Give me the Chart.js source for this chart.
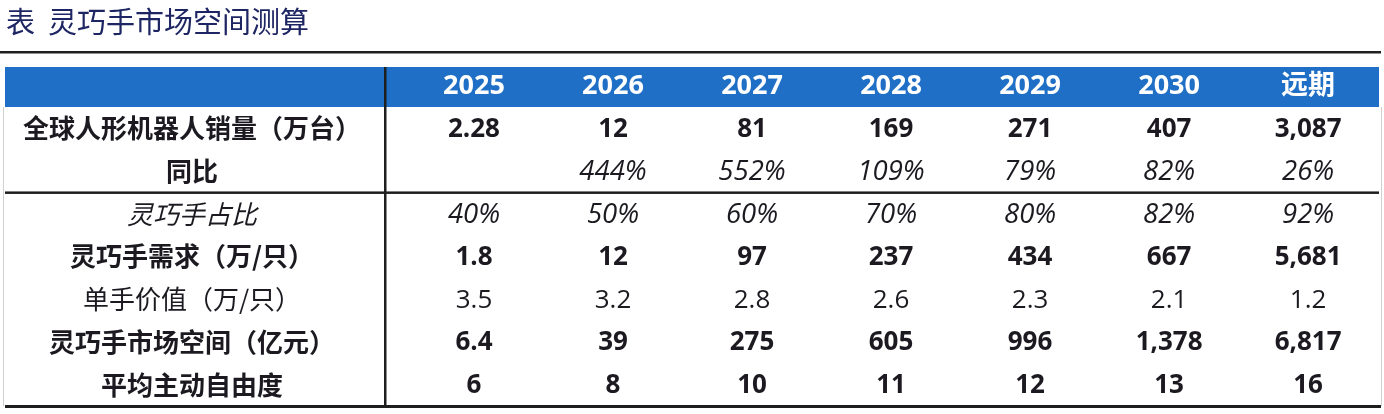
<!DOCTYPE html>
<html>
<head>
<meta charset="utf-8">
<script src="https://cdn.jsdelivr.net/npm/chart.js@4.4.1/dist/chart.umd.min.js"></script>
<style>
html,body{margin:0;padding:0;background:#fff;overflow:hidden;}
#c{display:block;width:1384px;height:414px;}
</style>
</head>
<body>
<canvas id="c" width="1384" height="414"></canvas>
<script>
// ---- data ----
const titleText = '表  灵巧手市场空间测算';
const years = ['2025', '2026', '2027', '2028', '2029', '2030', '远期'];
const rowLabels = ['全球人形机器人销量（万台）', '同比', '灵巧手占比', '灵巧手需求（万/只）', '单手价值（万/只）', '灵巧手市场空间（亿元）', '平均主动自由度'];
const robotSales = [2.28, 12, 81, 169, 271, 407, 3087];      // 万台
const yoyGrowth = [null, 444, 552, 109, 79, 82, 26];          // %
const handShare = [40, 50, 60, 70, 80, 82, 92];               // %
const handDemand = [1.8, 12, 97, 237, 434, 667, 5681];        // 万只
const unitValue = [3.5, 3.2, 2.8, 2.6, 2.3, 2.1, 1.2];        // 万/只
const marketSize = [6.4, 39, 275, 605, 996, 1378, 6817];      // 亿元
const activeDof = [6, 8, 10, 11, 12, 13, 16];

const rowValues = [robotSales, yoyGrowth, handShare, handDemand, unitValue, marketSize, activeDof];
const rowFormat = ['num', 'pct', 'pct', 'num', 'fix1', 'num', 'num'];

// ---- styles ----
const NUM_FONT = "'Open Sans','Noto Sans CJK SC',sans-serif";
const CJK_FONT = "'Noto Sans CJK SC','Noto Sans',sans-serif";
const TEXT = '#1c1a20';
const HEADER_BG = '#1f6fc6';
const rowValueStyle = [
  {style: 'normal', weight: 'bold', size: 26},
  {style: 'italic', weight: 'normal', size: 27.5},
  {style: 'italic', weight: 'normal', size: 27.5},
  {style: 'normal', weight: 'bold', size: 26},
  {style: 'normal', weight: 'normal', size: 26},
  {style: 'normal', weight: 'bold', size: 26},
  {style: 'normal', weight: 'bold', size: 26}
];
const rowLabelStyle = [
  {style: 'normal', weight: 'bold'},
  {style: 'normal', weight: 'bold'},
  {style: 'italic', weight: 'normal'},
  {style: 'normal', weight: 'bold'},
  {style: 'normal', weight: 'normal'},
  {style: 'normal', weight: 'bold'},
  {style: 'normal', weight: 'bold'}
];

function fmt(v, kind) {
  if (v === null || v === undefined) return '';
  if (kind === 'pct') return v + '%';
  if (kind === 'fix1') return v.toFixed(1);
  return v.toLocaleString('en-US', {maximumFractionDigits: 2});
}

const datasets = rowValues.map((vals, r) => ({
  label: rowLabels[r],
  data: vals.map((v, i) => ({x: i, y: rowLabels[r]})),
  pointRadius: 0,
  pointHoverRadius: 0,
  showLine: false
}));

const tablePlugin = {
  id: 'tablePlugin',
  beforeDraw(chart) {
    const ctx = chart.ctx;
    const xs = chart.scales.x;
    const ca = chart.chartArea;
    ctx.save();
    ctx.fillStyle = '#fff';
    ctx.fillRect(0, 0, chart.width, chart.height);
    // title
    ctx.fillStyle = '#1d2563';
    ctx.font = "normal 29px " + CJK_FONT;
    ctx.textBaseline = 'middle';
    ctx.textAlign = 'left';
    ctx.fillText(titleText, 6, 22);
    // title underline
    ctx.fillStyle = '#202020';
    ctx.fillRect(0, 51, 1381, 2.5);
    // header band
    ctx.fillStyle = HEADER_BG;
    ctx.fillRect(5, xs.top, ca.right - 5, xs.bottom - xs.top);
    ctx.restore();
  },
  afterDatasetsDraw(chart) {
    const ctx = chart.ctx;
    const ys = chart.scales.y;
    const xs = chart.scales.x;
    const ca = chart.chartArea;
    ctx.save();
    ctx.textAlign = 'center';
    ctx.textBaseline = 'middle';
    ctx.fillStyle = TEXT;
    chart.data.datasets.forEach((ds, r) => {
      const meta = chart.getDatasetMeta(r);
      const st = rowValueStyle[r];
      ctx.font = st.style + ' ' + st.weight + ' ' + st.size + 'px ' + NUM_FONT;
      meta.data.forEach((el, i) => {
        const t = fmt(rowValues[r][i], rowFormat[r]);
        if (t) ctx.fillText(t, el.x, el.y + 1);
      });
    });
    // rules
    ctx.fillStyle = '#1e1e1e';
    ctx.fillRect(ca.left - 1, xs.top, 2.5, ca.bottom - xs.top);
    const sepY = (ys.getPixelForValue(1) + ys.getPixelForValue(2)) / 2;
    ctx.fillRect(5, sepY - 1, ca.right - 5, 2.5);
    ctx.fillRect(5, ca.bottom - 1, ca.right - 3, 3);
    ctx.fillStyle = '#d0d0d0';
    ctx.fillRect(3, xs.bottom, 1, ca.bottom - xs.bottom);
    ctx.fillRect(ca.right + 2, xs.bottom, 1, ca.bottom - xs.bottom);
    ctx.restore();
  }
};

new Chart(document.getElementById('c'), {
  type: 'scatter',
  data: {datasets},
  plugins: [tablePlugin],
  options: {
    responsive: false,
    devicePixelRatio: window.devicePixelRatio || 1,
    animation: false,
    events: [],
    layout: {padding: {top: 67, left: 5, right: 5, bottom: 8}},
    plugins: {legend: {display: false}, tooltip: {enabled: false}, title: {display: false}},
    scales: {
      x: {
        type: 'linear',
        position: 'top',
        min: -0.64,
        max: 6.51,
        grid: {display: false, drawTicks: false},
        border: {display: false},
        afterFit(scale) { scale.height = 40; },
        ticks: {
          stepSize: 1,
          includeBounds: false,
          autoSkip: false,
          maxRotation: 0,
          padding: 4,
          color: '#ffffff',
          font: {family: NUM_FONT, size: 27, weight: 'bold'},
          callback: (v) => (Number.isInteger(v) && years[v] !== undefined) ? years[v] : ''
        }
      },
      y: {
        type: 'category',
        labels: rowLabels,
        offset: true,
        grid: {display: false, drawTicks: false},
        border: {display: false},
        afterFit(scale) {
          scale.width = 380;
          scale.paddingTop = 0;
          scale.paddingBottom = 0;
        },
        ticks: {
          crossAlign: 'center',
          padding: 24,
          color: TEXT,
          autoSkip: false,
          font: (c) => {
            const s = rowLabelStyle[c.index] || rowLabelStyle[0];
            return {family: CJK_FONT, size: 26, weight: s.weight, style: s.style};
          }
        }
      }
    }
  }
});
</script>
</body>
</html>
